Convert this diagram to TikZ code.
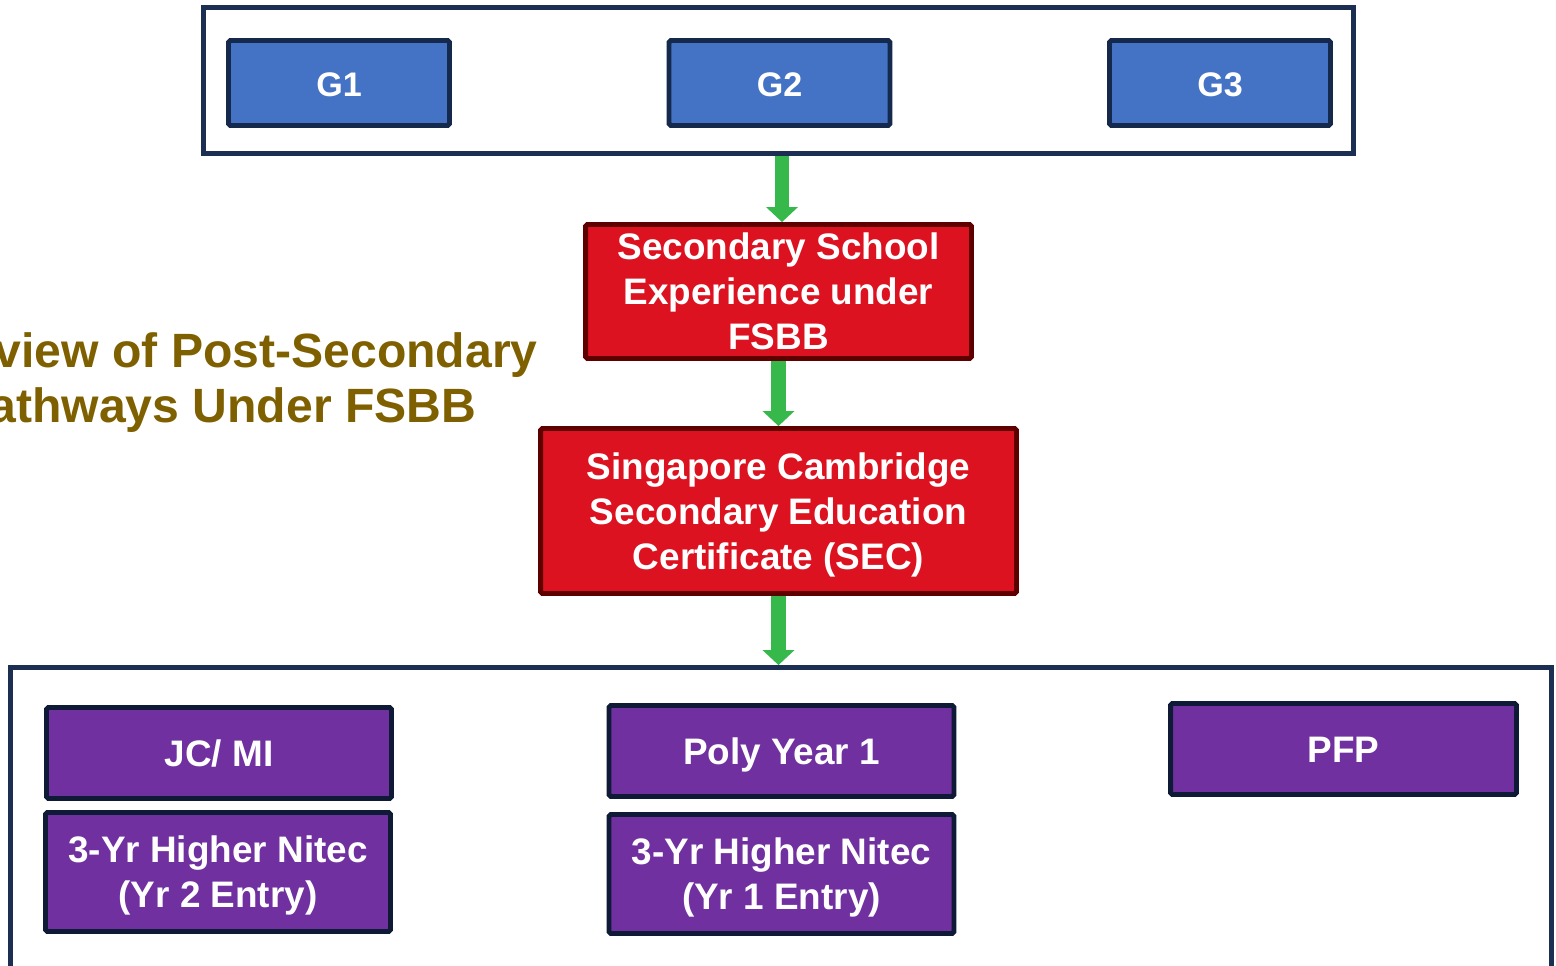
\documentclass[tikz,border=0pt]{standalone}
\usepackage{fontspec}
\setmainfont{Liberation Sans}
\usepackage{xcolor}
\usepackage{tikz}
\usetikzlibrary{positioning}
\usetikzlibrary{arrows.meta}
\definecolor{framenavy}{HTML}{1C2E52}
\definecolor{gradeblue}{HTML}{4472C4}
\definecolor{gradeedge}{HTML}{15294D}
\definecolor{secred}{HTML}{DD1220}
\definecolor{secedge}{HTML}{5E0000}
\definecolor{pathpurple}{HTML}{7030A0}
\definecolor{pathedge}{HTML}{0E1A36}
\definecolor{flowgreen}{HTML}{37B84A}
\definecolor{titlegold}{HTML}{7F6000}
\tikzset{flow edge/.style = {-{Triangle[width=17.6pt,length=8.5pt]}, line width=8.5pt, draw=flowgreen}}

\begin{document}
\begin{tikzpicture}[x=0.02cm,y=-0.02cm,line width=2.8pt,
    box/.style={rectangle,draw,rounded corners=1pt,text=white,align=center,inner sep=0pt,font=\fontsize{21}{25.6}\selectfont\bfseries},
    one line/.style={text height=20pt,text depth=5pt},
    more lines/.style={text depth=0pt},
    frame node/.style={rectangle,draw=framenavy,inner sep=0pt},
    grade node/.style={box,one line,fill=gradeblue,draw=gradeedge,minimum width=4.42cm,minimum height=1.70cm,font=\fontsize{19.4}{23}\selectfont\bfseries},
    sec node/.style={box,more lines,fill=secred,draw=secedge},
    path node/.style={box,fill=pathpurple,draw=pathedge,minimum width=6.90cm},
    title node/.style={inner sep=0pt,text=titlegold,font=\fontsize{27.4}{31.3}\selectfont\bfseries}]
    \useasboundingbox (0,0) rectangle (1556,965);
    % frames
    \node[frame node,minimum width=23.0cm,minimum height=2.92cm] (top) at (778.5,80.5) {};
    \node[frame node,minimum width=30.82cm,minimum height=6.45cm] (post) at (781,828.75) {};

    % grades
    \node[grade node] (g1) at (339,83) {G1};
    \node[grade node] (g2) at (779.5,83) {G2};
    \node[grade node] (g3) at (1220,83) {G3};

    % secondary
    \node[sec node,minimum width=7.72cm,minimum height=2.68cm] (sec) at (778.5,291.5) {Secondary School\\Experience under\\FSBB};
    \node[sec node,minimum width=9.52cm,minimum height=3.30cm] (cert) at (778.5,511) {Singapore Cambridge\\Secondary Education\\Certificate (SEC)};

    % title
    \node[title node,anchor=base east] (title1) at (540,367) {view of Post-Secondary};
    \node[title node,anchor=base west] (title2) at (-13,422) {athways Under FSBB};

    % pathways
    \node[path node,one line,minimum height=1.82cm] (jc) at (219,753) {JC/ MI};
    \node[path node,more lines,minimum height=2.38cm] (hn2) at (218,872) {3-Yr Higher Nitec\\(Yr 2 Entry)};
    \node[path node,one line,minimum height=1.82cm] (poly) at (781.5,751) {Poly Year 1};
    \node[path node,more lines,minimum height=2.38cm] (hn1) at (781.5,874) {3-Yr Higher Nitec\\(Yr 1 Entry)};
    \node[path node,one line,minimum width=6.92cm,minimum height=1.82cm] (pfp) at (1343.5,749) {PFP};

    \draw[flow edge] ([xshift=3.5*0.02cm]top.south) -- ([xshift=3.5*0.02cm]sec.north);
    \draw[flow edge] (sec.south) -- (cert.north);
    \draw[flow edge] (cert.south) -- (cert.south |- post.north);
\end{tikzpicture}
\end{document}
